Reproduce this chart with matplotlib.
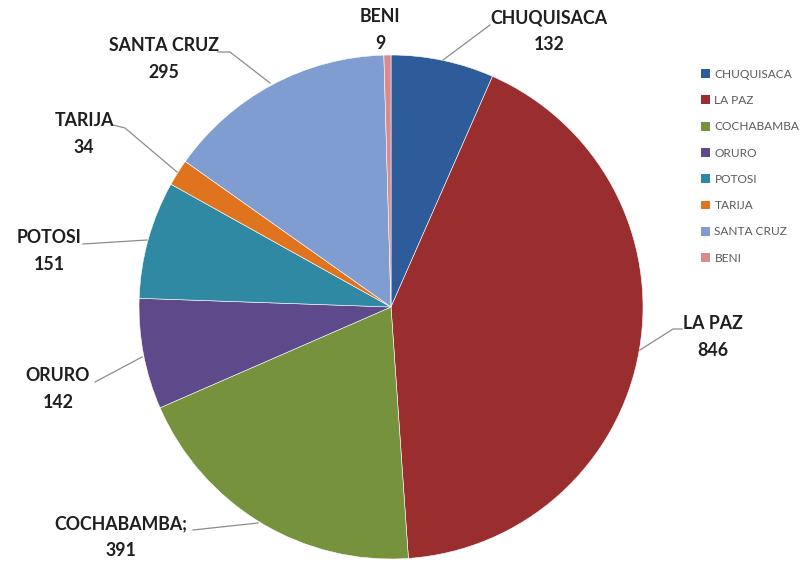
import matplotlib
matplotlib.use("Agg")
import matplotlib.pyplot as plt
from matplotlib.patches import Patch

categories = ["CHUQUISACA", "LA PAZ", "COCHABAMBA", "ORURO", "POTOSI", "TARIJA", "SANTA CRUZ", "BENI"]
values = [132, 846, 391, 142, 151, 34, 295, 9]
label_names = ["CHUQUISACA", "LA PAZ", "COCHABAMBA;", "ORURO", "POTOSI", "TARIJA", "SANTA CRUZ", "BENI"]
colors = ["#2E5C9A", "#9A2D2E", "#76923C", "#5E4A8B", "#2F89A2", "#E0731E", "#7F9DD0", "#D98A8F"]

W, H = 805, 563
fig = plt.figure(figsize=(W / 100, H / 100), dpi=100)
ax = fig.add_axes([0, 0, 1, 1])

def py(y):
    return H - y

cx, cy, R = 391, 307, 252
ax.pie(values, colors=colors, startangle=90, counterclock=False,
       center=(cx, py(cy)), radius=R, frame=True,
       wedgeprops=dict(edgecolor="white", linewidth=0.4))
ax.set_xlim(0, W)
ax.set_ylim(0, H)
ax.set_aspect("equal")
ax.axis("off")

# label centers (pixel coords) and leader polylines
label_pos = [(549, 31), (713, 337), (121, 537), (58, 389), (49, 251), (84, 134), (164, 59), (380, 30)]
leaders = [
    [(490, 25), (443, 60)],
    [(682, 329), (673, 329), (640, 350)],
    [(193, 530), (258, 523)],
    [(95, 382), (142, 357)],
    [(83, 244), (147, 240)],
    [(113, 125), (125, 128), (177, 172)],
    [(218, 52), (230, 52), (270, 83)],
    None,
]

for name, v, (lx, ly), ld in zip(label_names, values, label_pos, leaders):
    ax.text(lx, py(ly), f"{name}\n{v}", ha="center", va="center",
            fontsize=12.8, fontweight="bold", family="Lato", color="#1F1F1F",
            linespacing=1.7)
    if ld:
        xs = [p[0] for p in ld]
        ys = [py(p[1]) for p in ld]
        ax.plot(xs, ys, color="#8C8C8C", lw=0.9)

handles = [Patch(facecolor=c, edgecolor="none") for c in colors]
leg = ax.legend(handles, categories, loc="upper left",
                bbox_to_anchor=(690 / W, 1 - 58 / H), frameon=False,
                prop=dict(family="Lato", size=8.6), labelcolor="#595959",
                handlelength=0.75, handleheight=0.75, handletextpad=0.4,
                labelspacing=1.28)

fig.savefig("out.png", dpi=100)
